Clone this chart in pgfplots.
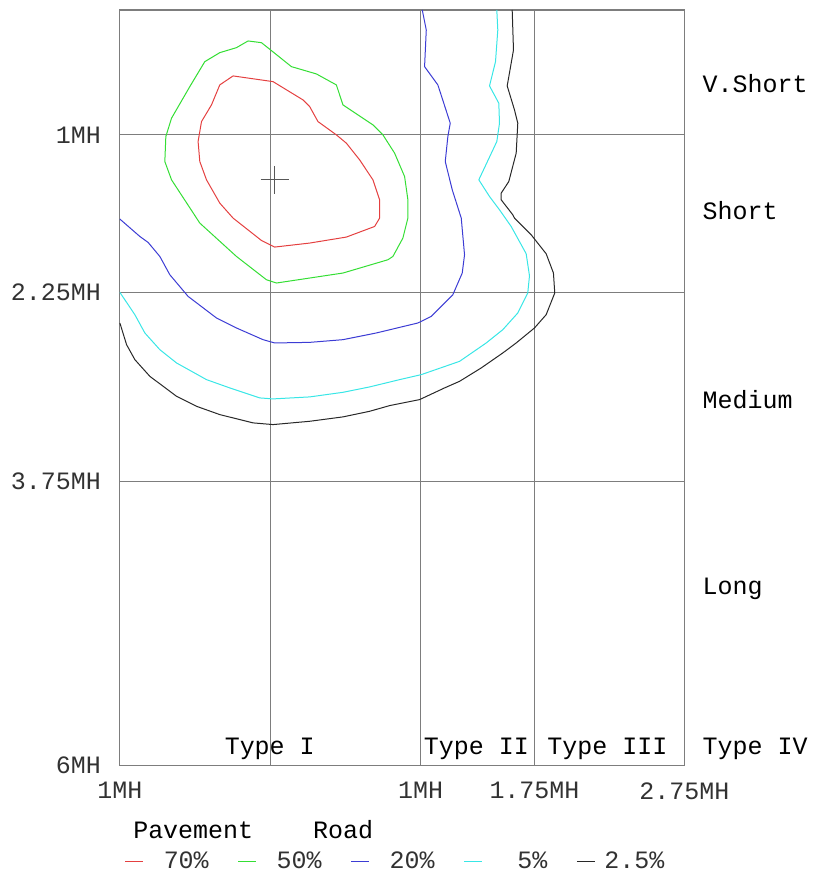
\documentclass[border=0pt]{standalone}
\usepackage{fontspec}
\setmainfont{Liberation Mono}
\usepackage{pgfplots}
\pgfplotsset{compat=1.18}
\definecolor{cred}{RGB}{228,64,64}
\definecolor{cgreen}{RGB}{52,222,52}
\definecolor{cblue}{RGB}{60,60,212}
\definecolor{ccyan}{RGB}{56,230,230}
\definecolor{cblack}{RGB}{40,40,40}
\definecolor{gridgray}{RGB}{125,125,125}
\definecolor{txt}{RGB}{50,50,50}
\begin{document}
\begin{tikzpicture}
\begin{axis}[
  x=0.5pt, y=0.5pt, y dir=reverse,
  xmin=120, xmax=685, ymin=10, ymax=766,
  axis line style={gridgray, line width=0.6pt},
  clip=false,
  font=\fontsize{12.5}{15}\selectfont,
  xtick={120,271,421,535,685},
  xticklabels={1MH,,1MH,1.75MH,2.75MH},
  ytick={135,293,482,766},
  yticklabels={1MH,2.25MH,3.75MH,6MH},
  major tick length=0pt,
  xmajorgrids, ymajorgrids,
  grid style={gridgray, line width=0.6pt},
  ticklabel style={text=txt},
  xticklabel style={yshift=-5pt},
  yticklabel style={xshift=-6pt},
  every node/.append style={text=txt},
  legend columns=5,
  legend style={draw=none, fill=none, inner sep=0pt,
    at={(axis description cs:0.008,-0.127)}, anchor=west,
    font=\fontsize{12.5}{15}\selectfont, text=txt,
    /tikz/every odd column/.append style={column sep=8pt},
    /tikz/every even column/.append style={column sep=12.5pt}},
  legend image code/.code={\draw[#1] (0pt,0pt) -- (9pt,0pt);},
]
% 70% contour
\addplot[cred, line width=0.5pt] coordinates {
(233.3,76) (273.3,81.7) (303.3,100) (310,106.7) (318.3,121.7) (336.7,135)
(346.7,143.3) (360,160) (373.3,180) (380,200) (380,218.3) (375,226.7)
(346.7,237.3) (310,243.3) (275,247.3) (261.7,240.7) (233.3,218.3) (220,203.3)
(206.7,180) (200,161.7) (198.3,141.7) (201.7,121.7) (211.7,105) (220,85) (233.3,76)};
\addlegendentry{70\%}
% 50% contour
\addplot[cgreen, line width=0.5pt] coordinates {
(248.3,41) (261.7,42.7) (270,49.3) (291.7,66.7) (316.7,74) (336.7,85)
(343.3,105) (373.3,125) (383.3,135) (395,153.3) (405,176.7) (408.3,200)
(408.3,218.3) (403.3,238.3) (393.3,256.7) (388.3,260) (343.3,273.3)
(276.7,283.3) (266.7,280) (236.7,256.7) (200,223.3) (171.7,180) (165,161.7)
(166,136.7) (171.7,118.3) (190,86.7) (205,61.7) (220,52.7) (236.7,47.7) (248.3,41)};
\addlegendentry{50\%}
% 20% contour
\addplot[cblue, line width=0.5pt] coordinates {
(422.7,10) (426.7,30) (425,66.7) (438.3,85) (450.7,123.3) (448.3,136.7)
(445.7,161.7) (452.7,190) (461.7,218.3) (465,255) (462.7,273.3) (453.3,295)
(431.7,316.7) (418.3,323.3) (376.7,333.3) (343.3,340) (310,342.7) (275,343.3)
(263.3,340) (236.7,328.3) (216.7,318.3) (188.3,296.7) (170,275) (160,256.7)
(148.3,242.7) (140,236.7) (120,219.3)};
\addlegendentry{20\%}
% 5% contour
\addplot[ccyan, line width=0.5pt] coordinates {
(497.3,10) (498.3,30) (496,61.7) (490,86) (499.3,103.3) (500,123.3)
(497.3,141.7) (479.3,180) (490,196.7) (500,210) (511.7,226.7) (526.7,254)
(530,276) (528.3,293.3) (518.3,313.3) (503.3,330) (486.7,343.3) (460,361.7)
(421.7,375) (400,380) (370,387.3) (343.3,392.7) (310,397.3) (273.3,399.3)
(260,398.3) (230,388.3) (206.7,380) (176.7,363.3) (160,350) (145,333.3)
(135,315) (128.3,305) (120,292.7)};
\addlegendentry{\phantom{0}5\%}
% 2.5% contour
\addplot[cblack, line width=0.5pt] coordinates {
(512.7,10) (514,50) (507.7,86) (515,110) (518.3,123.3) (516.7,153.3)
(509.3,181.7) (501.7,193.3) (501.7,200) (513.3,215) (515,218.3) (531.7,235)
(546.7,254) (554,273.3) (555.3,293.3) (546.7,315) (535,328.3) (516.7,343.3)
(503.3,353.3) (481.7,368.3) (460,381.7) (445,388.3) (420,400) (390,406)
(370,411.7) (343.3,417.3) (310,421.7) (273.3,425) (253.3,423.3) (220,415)
(196.7,406.7) (176.7,396.7) (150,376.7) (135,360) (126.7,345) (120,323.3)};
\addlegendentry{\hspace{-5.5pt}2.5\%}
% centre mark
\addplot[only marks, mark=+, mark size=7pt, gridgray!70!black, mark options={line width=0.5pt}, forget plot] coordinates {(275,180)};
% labels
\node[anchor=west, inner sep=0pt] at (axis cs:703,84) {V.Short};
\node[anchor=west, inner sep=0pt] at (axis cs:703,211) {Short};
\node[anchor=west, inner sep=0pt] at (axis cs:703,400) {Medium};
\node[anchor=west, inner sep=0pt] at (axis cs:703,589) {Long};
\node[anchor=west, inner sep=0pt] at (axis cs:703,750) {Type IV};
\node[inner sep=0pt] at (axis cs:270,750) {Type I};
\node[anchor=west, inner sep=0pt] at (axis cs:424,750) {Type II};
\node[inner sep=0pt] at (axis cs:608,750) {Type III};
\node[anchor=west, inner sep=0pt] at (axis cs:133,830) {Pavement\ \ \ \ Road};
\path (axis cs:0,0) (axis cs:813,875);
\end{axis}
\end{tikzpicture}
\end{document}
